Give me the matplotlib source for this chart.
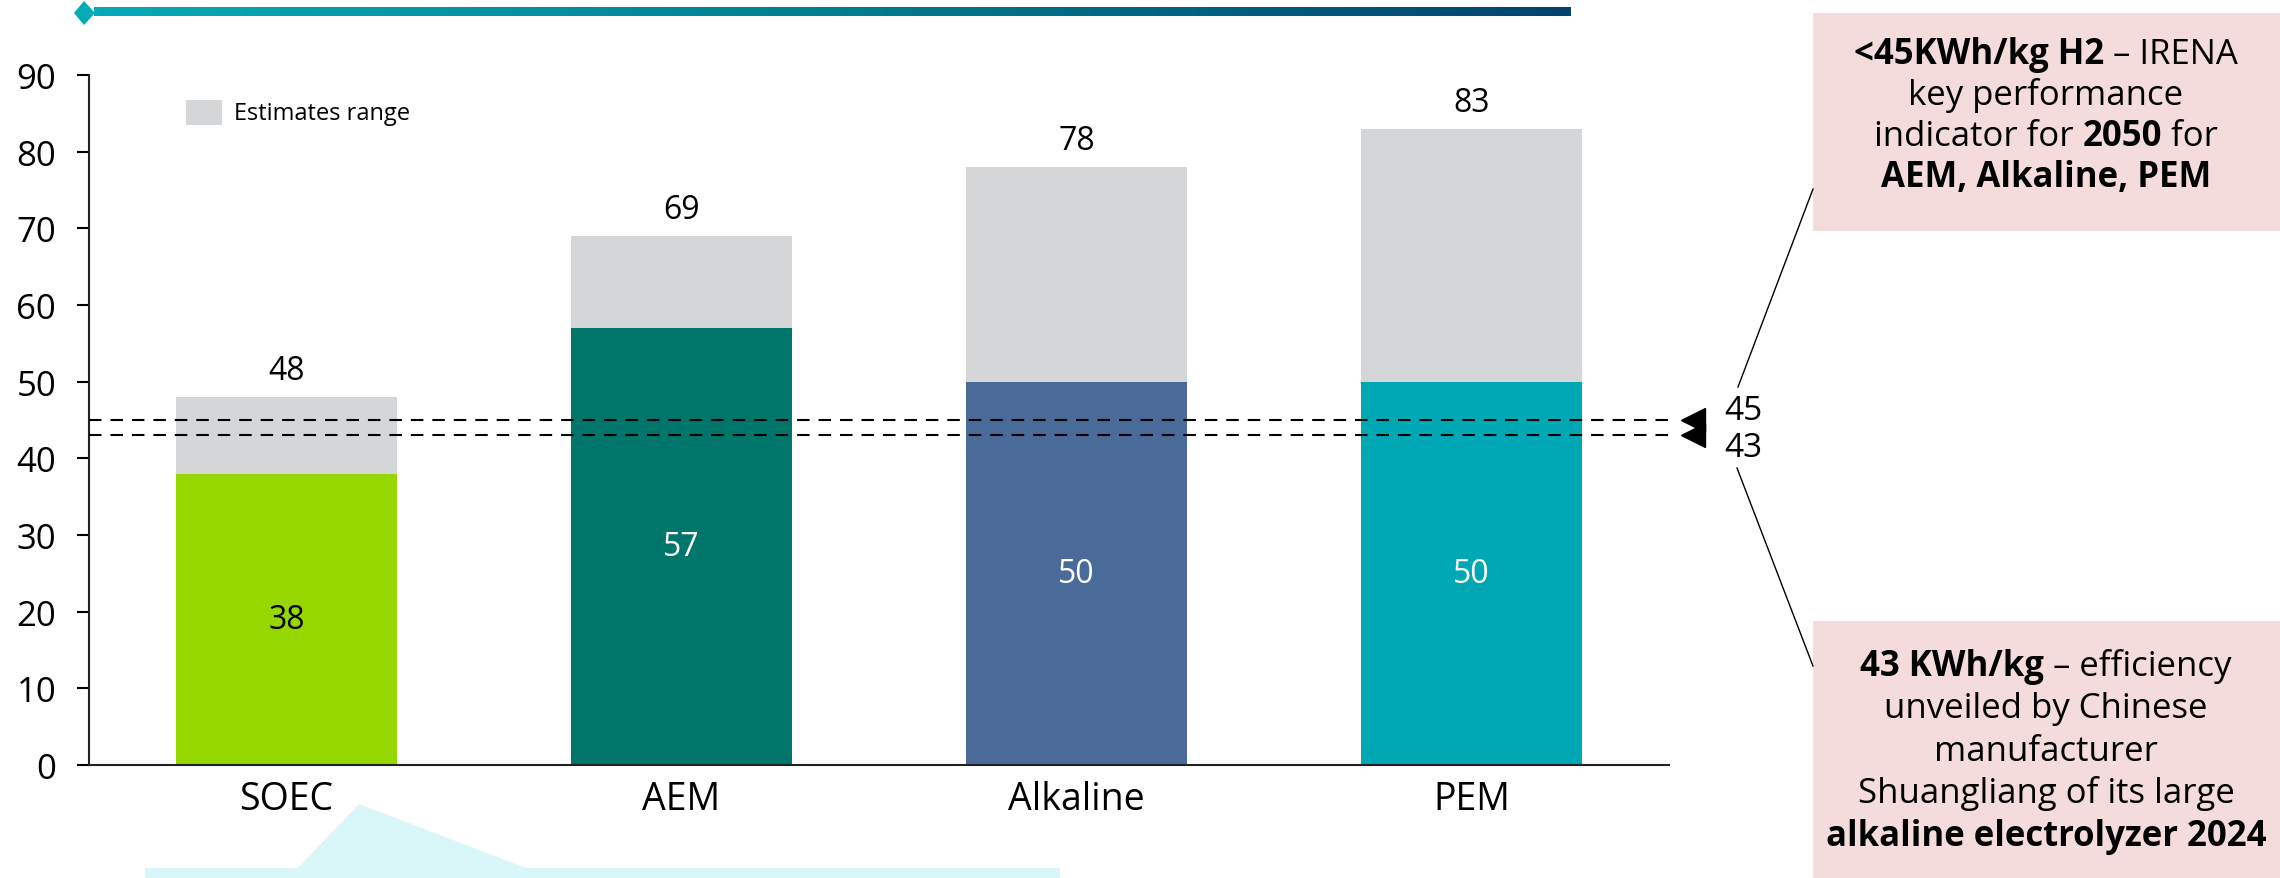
import matplotlib
matplotlib.use("Agg")
import matplotlib.pyplot as plt
import numpy as np
from matplotlib.patches import Rectangle, Polygon
from matplotlib.colors import LinearSegmentedColormap
from matplotlib.lines import Line2D

# ---------------- data ----------------
categories = ["SOEC", "AEM", "Alkaline", "PEM"]
base_values = [38, 57, 50, 50]          # lower estimate (coloured part)
upper_values = [48, 69, 78, 83]         # upper estimate (top of grey range)
bar_colors = ["#97D700", "#00756A", "#4A6A99", "#00A8B5"]
inner_label_colors = ["black", "white", "white", "white"]
ref_levels = [45, 43]
ref_labels = ["45", "43"]
yticks = [0, 10, 20, 30, 40, 50, 60, 70, 80, 90]
legend_label = "Estimates range"

box_top_lines = [
    [("<45KWh/kg H2", True), (" \u2013 IRENA", False)],
    [("key performance", False)],
    [("indicator for ", False), ("2050", True), (" for", False)],
    [("AEM, Alkaline, PEM", True)],
]
box_bottom_lines = [
    [("43 KWh/kg", True), (" \u2013 efficiency", False)],
    [("unveiled by Chinese", False)],
    [("manufacturer", False)],
    [("Shuangliang of its large", False)],
    [("alkaline electrolyzer 2024", True)],
]

# ---------------- setup ----------------
plt.rcParams["font.family"] = ["Open Sans", "DejaVu Sans"]
W, H = 2280, 879
fig = plt.figure(figsize=(W / 100, H / 100), dpi=100)


def fx(px):
    return px / W


def fy(py):
    return 1 - py / H


ax = fig.add_axes([fx(89), fy(766), fx(1669) - fx(89), fy(76) - fy(766)])
x = np.arange(len(categories))
width = 0.56
gray = "#D5D6D8"

ax.bar(x, base_values, width, color=bar_colors, zorder=2)
ranges = [u - b for u, b in zip(upper_values, base_values)]
ax.bar(x, ranges, width, bottom=base_values, color=gray, zorder=2)

ax.set_xlim(-0.5, 3.5)
ax.set_ylim(0, 90)
ax.set_yticks(yticks)
ax.set_xticks(x)
ax.set_xticklabels(categories, fontsize=27)
ax.tick_params(axis="x", length=0, pad=11)
ax.tick_params(axis="y", length=8.6, width=1.5, direction="out", pad=15, labelsize=25)
for s in ["top", "right"]:
    ax.spines[s].set_visible(False)
for s in ["left", "bottom"]:
    ax.spines[s].set_linewidth(1.5)
    ax.spines[s].set_color("#222222")

# value labels
for xi, u, b, c in zip(x, upper_values, base_values, inner_label_colors):
    ax.annotate(f"{u}", (xi, u), xytext=(0, 7), textcoords="offset points",
                ha="center", va="bottom", fontsize=23, color="black")
    ax.text(xi, b / 2, f"{b}", ha="center", va="center", fontsize=23, color=c, zorder=3)

# reference dashed lines + markers
for lvl in ref_levels:
    ax.axhline(lvl, color="black", lw=1.5, ls=(0, (6, 4.3)), zorder=4)
    ax.plot([3.56], [lvl], marker="<", ms=17, color="black", clip_on=False, zorder=5)
ax.text(3.64, ref_levels[0] + 1.2, ref_labels[0], fontsize=24, ha="left", va="center", clip_on=False)
ax.text(3.64, ref_levels[1] - 1.6, ref_labels[1], fontsize=24, ha="left", va="center", clip_on=False)

# legend (manual)
fig.add_artist(Rectangle((fx(186), fy(126)), fx(36), 25 / H, transform=fig.transFigure,
                         facecolor=gray, edgecolor="none"))
fig.text(fx(234), fy(114), legend_label, fontsize=17, ha="left", va="center")

# top gradient line
gax = fig.add_axes([fx(94), fy(17), fx(1571) - fx(94), 9 / H])
cmap = LinearSegmentedColormap.from_list("g", ["#05AAB8", "#007E91", "#00436F"])
gax.imshow(np.linspace(0, 1, 256)[None, :], aspect="auto", cmap=cmap)
gax.axis("off")
fig.add_artist(Polygon([(fx(74), fy(14)), (fx(84), fy(2)), (fx(95), fy(14)), (fx(84), fy(26))],
                       closed=True, transform=fig.transFigure, facecolor="#05AAB8", edgecolor="none"))

# bottom callout (light cyan)
callout = [(145, 879), (145, 869), (298, 869), (359, 805), (526, 869), (1060, 869), (1060, 879)]
fig.add_artist(Polygon([(fx(a), fy(b)) for a, b in callout], closed=True, transform=fig.transFigure,
                       facecolor="#D9F6F8", edgecolor="none"))

# pink boxes
pink = "#F4DCDD"
fig.add_artist(Rectangle((fx(1813), fy(232)), fx(2280) - fx(1813), (232 - 14) / H,
                         transform=fig.transFigure, facecolor=pink, edgecolor="none"))
fig.add_artist(Rectangle((fx(1813), fy(879)), fx(2280) - fx(1813), (879 - 622) / H,
                         transform=fig.transFigure, facecolor=pink, edgecolor="none"))

# leader lines
fig.add_artist(Line2D([fx(1738), fx(1813)], [fy(388), fy(190)], transform=fig.transFigure,
                      color="black", lw=1))
fig.add_artist(Line2D([fx(1737), fx(1813)], [fy(469), fy(667)], transform=fig.transFigure,
                      color="black", lw=1))

renderer = fig.canvas.get_renderer()


def rich_line(xc, ybase, segments, size):
    texts, widths = [], []
    for s, b in segments:
        t = fig.text(0, fy(ybase), s, fontsize=size, fontweight="bold" if b else "normal",
                     ha="left", va="baseline", color="black")
        texts.append(t)
        widths.append(t.get_window_extent(renderer).width)
    total = sum(widths)
    xpos = xc - total / 2
    for t, w in zip(texts, widths):
        t.set_x(fx(xpos))
        xpos += w


box_fs = 25
for i, segs in enumerate(box_top_lines):
    rich_line(2046, 64 + 41 * i, segs, box_fs)
for i, segs in enumerate(box_bottom_lines):
    rich_line(2046, 676 + 42.5 * i, segs, box_fs)

fig.savefig("out.png", dpi=100)
